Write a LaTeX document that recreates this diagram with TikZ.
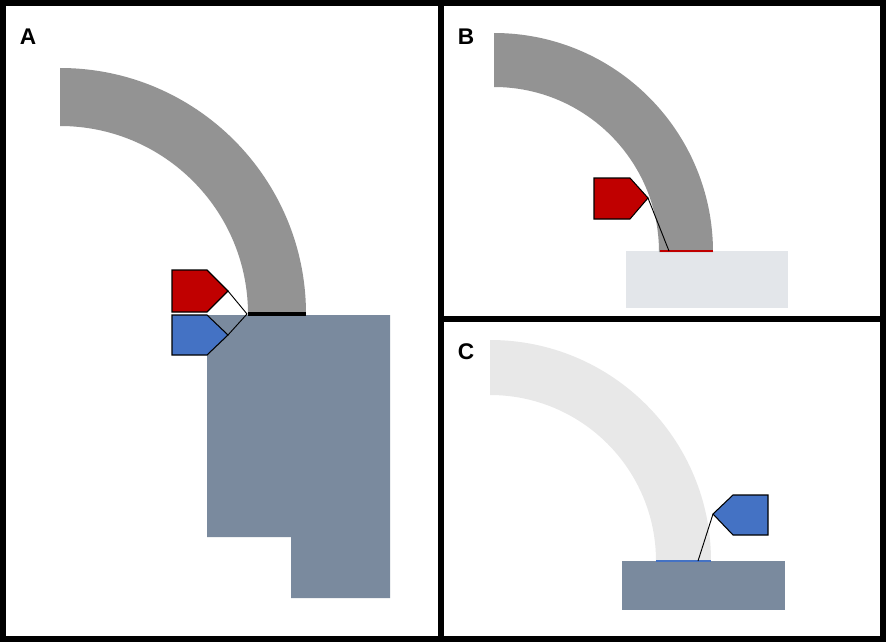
\documentclass[tikz,border=0pt]{standalone}
\usepackage{fontspec}
\setmainfont{Liberation Sans}
\definecolor{arcg}{RGB}{147,147,147}
\definecolor{arcl}{RGB}{232,232,232}
\definecolor{slate}{RGB}{122,138,158}
\definecolor{pale}{RGB}{227,230,234}
\definecolor{tagred}{RGB}{192,0,0}
\definecolor{tagblue}{RGB}{68,114,196}
\tikzset{tagshape/.style={draw=black,line width=0.8pt},
  lead/.style={draw=black,line width=0.7pt},
  lbl/.style={font=\bfseries\fontsize{17}{17}\selectfont,inner sep=0pt}}
\begin{document}
\begin{tikzpicture}[x=0.75pt,y=-0.75pt]
\useasboundingbox (0,0) rectangle (886,642);
\fill[white] (0,0) rectangle (886,642);
% panel A
\fill[arcg] (60,68) arc[start angle=-90,end angle=0,radius=246] -- (248,314) arc[start angle=0,end angle=-90,radius=188] -- cycle;
\fill[slate] (207,315) -- (390,315) -- (390,598) -- (291,598) -- (291,537) -- (207,537) -- cycle;
\draw[line width=2.5pt] (248,314) -- (306,314);
\fill[white] (228,291) -- (247,314) -- (207,313) -- cycle;
\filldraw[tagshape,fill=tagred] (172,270) -- (207,270) -- (228,291) -- (207,312) -- (172,312) -- cycle;
\filldraw[tagshape,fill=tagblue] (172,315) -- (207,315) -- (228,335) -- (207,355) -- (172,355) -- cycle;
\coordinate (ja) at (247,314);
\draw[lead] (228,291) -- (ja) -- (228,335);
\node[lbl] (la) at (28,37) {A};
% panel B
\fill[pale] (626,251) rectangle (788,308);
\fill[arcg] (494,33) arc[start angle=-90,end angle=0,radius=219] -- (659,252) arc[start angle=0,end angle=-90,radius=165] -- cycle;
\draw[tagred,line width=2pt] (660,251) -- (713,251);
\filldraw[tagshape,fill=tagred] (594,178) -- (630,178) -- (648,198) -- (630,219) -- (594,219) -- cycle;
\coordinate (jb) at (669,251);
\draw[lead] (648,198) -- (jb);
\node[lbl] (lb) at (466,37) {B};
% panel C
\fill[arcl] (490,340) arc[start angle=-90,end angle=0,radius=221] -- (656,561) arc[start angle=0,end angle=-90,radius=166] -- cycle;
\fill[slate] (622,561) rectangle (785,610);
\draw[tagblue,line width=2pt] (656,561) -- (711,561);
\filldraw[tagshape,fill=tagblue] (713,514) -- (733,495) -- (768,495) -- (768,535) -- (733,535) -- cycle;
\coordinate (jc) at (698,561);
\draw[lead] (713,514) -- (jc);
\node[lbl] (lc) at (466,352) {C};
% frames
\draw[line width=4.5pt] (3,3) rectangle (883,639);
\draw[line width=4.5pt] (441,3) -- (441,639);
\draw[line width=4.5pt] (441,319) -- (883,319);
\end{tikzpicture}
\end{document}
